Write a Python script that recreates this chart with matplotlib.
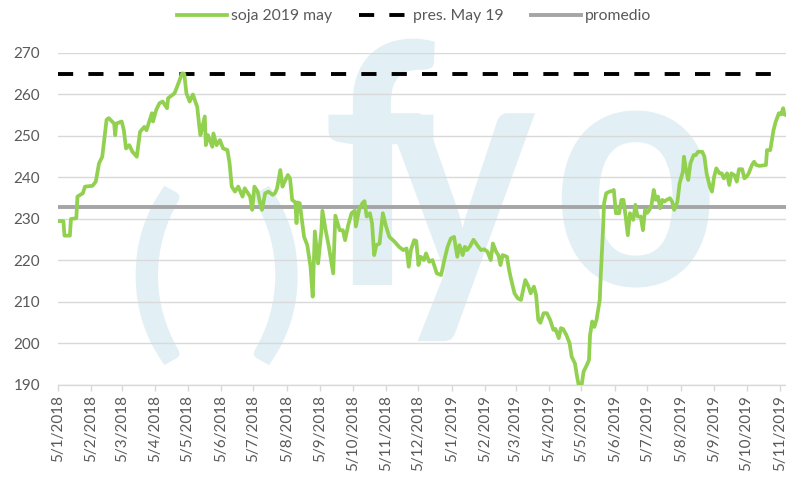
import matplotlib
matplotlib.use("Agg")
import matplotlib.pyplot as plt
import pandas as pd
from matplotlib.textpath import TextPath
from matplotlib.patches import PathPatch
from matplotlib.font_manager import FontProperties
from matplotlib.transforms import Affine2D

plt.rcParams['font.family'] = ['Lato', 'DejaVu Sans']

# ---- data ----
dates = [
    "2018-01-05", "2018-01-10", "2018-01-11", "2018-01-16", "2018-01-17", "2018-01-22", "2018-01-23",
    "2018-01-28", "2018-01-30", "2018-02-06", "2018-02-09", "2018-02-12", "2018-02-15", "2018-02-19",
    "2018-02-21", "2018-02-26", "2018-02-27", "2018-02-28", "2018-03-05", "2018-03-07", "2018-03-09",
    "2018-03-12", "2018-03-15", "2018-03-19", "2018-03-22", "2018-03-26", "2018-03-28", "2018-04-02",
    "2018-04-03", "2018-04-06", "2018-04-09", "2018-04-12", "2018-04-16", "2018-04-17", "2018-04-20",
    "2018-04-23", "2018-04-26", "2018-04-30", "2018-05-02", "2018-05-04", "2018-05-07", "2018-05-10",
    "2018-05-14", "2018-05-16", "2018-05-17", "2018-05-21", "2018-05-22", "2018-05-24", "2018-05-28",
    "2018-05-29", "2018-06-01", "2018-06-04", "2018-06-07", "2018-06-11", "2018-06-13", "2018-06-15",
    "2018-06-18", "2018-06-21", "2018-06-25", "2018-06-27", "2018-07-02", "2018-07-04", "2018-07-06",
    "2018-07-09", "2018-07-12", "2018-07-13", "2018-07-16", "2018-07-19", "2018-07-23", "2018-07-25",
    "2018-07-27", "2018-07-30", "2018-08-01", "2018-08-03", "2018-08-06", "2018-08-08", "2018-08-10",
    "2018-08-13", "2018-08-14", "2018-08-15", "2018-08-17", "2018-08-21", "2018-08-24", "2018-08-27",
    "2018-08-29", "2018-08-31", "2018-09-03", "2018-09-06", "2018-09-07", "2018-09-10", "2018-09-13",
    "2018-09-17", "2018-09-19", "2018-09-23", "2018-09-26", "2018-09-28", "2018-10-01", "2018-10-04",
    "2018-10-07", "2018-10-08", "2018-10-11", "2018-10-14", "2018-10-16", "2018-10-18", "2018-10-21",
    "2018-10-23", "2018-10-25", "2018-10-27", "2018-10-30", "2018-11-02", "2018-11-05", "2018-11-08",
    "2018-11-13", "2018-11-17", "2018-11-21", "2018-11-24", "2018-11-26", "2018-11-28", "2018-12-01",
    "2018-12-03", "2018-12-05", "2018-12-07", "2018-12-10", "2018-12-12", "2018-12-15", "2018-12-18",
    "2018-12-20", "2018-12-22", "2018-12-26", "2018-12-29", "2019-01-01", "2019-01-04", "2019-01-07",
    "2019-01-10", "2019-01-12", "2019-01-15", "2019-01-17", "2019-01-19", "2019-01-22", "2019-01-25",
    "2019-01-29", "2019-02-01", "2019-02-04", "2019-02-07", "2019-02-10", "2019-02-12", "2019-02-15",
    "2019-02-17", "2019-02-19", "2019-02-21", "2019-02-25", "2019-02-27", "2019-03-01", "2019-03-04",
    "2019-03-07", "2019-03-10", "2019-03-12", "2019-03-14", "2019-03-17", "2019-03-19", "2019-03-22",
    "2019-03-24", "2019-03-26", "2019-03-28", "2019-03-31", "2019-04-03", "2019-04-06", "2019-04-09",
    "2019-04-11", "2019-04-14", "2019-04-16", "2019-04-18", "2019-04-21", "2019-04-24", "2019-04-26",
    "2019-04-29", "2019-05-01", "2019-05-03", "2019-05-05", "2019-05-07", "2019-05-10", "2019-05-12",
    "2019-05-13", "2019-05-15", "2019-05-17", "2019-05-19", "2019-05-22", "2019-05-23", "2019-05-25",
    "2019-05-26", "2019-05-28", "2019-05-31", "2019-06-03", "2019-06-04", "2019-06-06", "2019-06-09",
    "2019-06-11", "2019-06-13", "2019-06-15", "2019-06-17", "2019-06-19", "2019-06-22", "2019-06-24",
    "2019-06-26", "2019-06-29", "2019-07-01", "2019-07-03", "2019-07-05", "2019-07-07", "2019-07-09",
    "2019-07-11", "2019-07-13", "2019-07-15", "2019-07-17", "2019-07-19", "2019-07-21", "2019-07-23",
    "2019-07-26", "2019-07-28", "2019-07-30", "2019-08-02", "2019-08-04", "2019-08-07", "2019-08-08",
    "2019-08-10", "2019-08-12", "2019-08-14", "2019-08-17", "2019-08-19", "2019-08-21", "2019-08-25",
    "2019-08-27", "2019-08-29", "2019-09-01", "2019-09-03", "2019-09-05", "2019-09-07", "2019-09-10",
    "2019-09-12", "2019-09-14", "2019-09-17", "2019-09-19", "2019-09-21", "2019-09-24", "2019-09-26",
    "2019-09-28", "2019-10-01", "2019-10-03", "2019-10-05", "2019-10-07", "2019-10-10", "2019-10-12",
    "2019-10-14", "2019-10-17", "2019-10-23", "2019-10-24", "2019-10-27", "2019-10-30", "2019-11-01",
    "2019-11-04", "2019-11-06", "2019-11-08", "2019-11-09", "2019-11-11",
]
soja = [
    229.5, 229.5, 226.0, 226.0, 230.0, 230.2, 235.4,
    236.2, 237.8, 238.0, 239.0, 243.4, 245.0, 253.9,
    254.3, 253.0, 250.2, 253.0, 253.5, 251.4, 247.0,
    247.8, 246.2, 245.0, 251.0, 252.2, 251.4, 255.5,
    253.5, 256.3, 257.9, 258.3, 256.7, 259.1, 259.7,
    260.3, 262.3, 265.1, 265.0, 260.3, 258.3, 260.0,
    257.0, 252.2, 250.2, 254.7, 247.8, 250.2, 247.4,
    250.6, 247.8, 249.0, 247.0, 246.6, 243.4, 237.8,
    236.6, 237.8, 235.4, 237.4, 235.4, 232.2, 237.8,
    236.6, 233.0, 232.2, 236.2, 236.6, 235.8, 236.2,
    237.4, 241.8, 237.8, 239.0, 240.6, 239.8, 234.6,
    234.0, 229.0, 234.0, 233.8, 225.7, 223.7, 218.5,
    211.3, 227.0, 219.3, 227.0, 232.0, 227.3, 223.3,
    216.9, 230.8, 227.3, 227.3, 224.9, 228.6, 231.4,
    232.0, 228.2, 232.2, 233.8, 234.3, 230.6, 231.4,
    229.0, 221.3, 223.7, 224.1, 231.4, 228.2, 225.7,
    224.5, 223.3, 222.5, 222.9, 218.5, 222.5, 224.9,
    224.7, 218.9, 220.9, 220.1, 221.7, 219.7, 220.1,
    218.5, 216.9, 216.5, 220.1, 223.3, 225.3, 225.7,
    220.9, 223.7, 221.3, 223.3, 222.5, 223.5, 225.0,
    223.5, 222.5, 222.7, 222.1, 220.1, 224.1, 222.1,
    221.3, 218.9, 221.3, 220.9, 217.7, 215.3, 212.1,
    210.9, 210.5, 212.9, 215.3, 213.7, 212.1, 213.7,
    211.7, 205.7, 205.0, 207.3, 207.3, 205.7, 203.3,
    203.5, 201.3, 203.7, 203.5, 202.1, 200.1, 196.8,
    195.2, 192.0, 189.3, 189.6, 193.2, 194.8, 196.0,
    202.0, 205.3, 204.0, 205.7, 210.5, 216.9, 227.3,
    233.8, 236.2, 236.6, 236.8, 237.0, 231.4, 231.4,
    234.6, 234.6, 230.6, 226.1, 231.4, 229.8, 233.4,
    230.6, 230.6, 227.3, 232.2, 231.5, 232.2, 233.4,
    237.0, 234.6, 235.4, 232.6, 234.6, 234.2, 234.6,
    235.0, 234.2, 232.2, 234.2, 238.6, 241.4, 245.0,
    241.8, 239.4, 243.4, 245.4, 245.4, 246.2, 246.2,
    245.0, 241.0, 237.8, 236.6, 240.2, 242.2, 241.0,
    241.0, 239.8, 241.0, 238.2, 241.0, 240.5, 239.0,
    242.0, 242.0, 239.8, 240.2, 241.0, 243.0, 243.8,
    243.0, 242.8, 243.0, 246.6, 246.6, 251.4, 253.4,
    255.5, 255.2, 256.7, 255.2, 255.0,
]
pres_may19 = 265.0
promedio = 233.0
series_labels = ["soja 2019 may", "pres. May 19", "promedio"]
y_ticks = [190, 200, 210, 220, 230, 240, 250, 260, 270]
tick_dates = pd.date_range("2018-01-05", "2019-11-05", freq=pd.DateOffset(months=1))

# ---- figure ----
W, H = 786, 478
fig = plt.figure(figsize=(W / 100, H / 100), dpi=100)
ax = fig.add_axes([58 / W, 1 - 385 / H, 1 - 58 / W, (385 - 53) / H])
ax.patch.set_alpha(0)

# watermark (light-blue "( )fyo" logo behind the chart)
wm = '#e2f0f5'
fp = FontProperties(family='Lato', weight='bold')
pix = Affine2D().scale(1 / W, 1 / H) + fig.transFigure


def logo(ch, x0, base, size, sx=1.0):
    tp = TextPath((0, 0), ch, size=size, prop=fp)
    tr = Affine2D().scale(sx, 1.0).translate(x0, H - base) + pix
    fig.patches.append(PathPatch(tp, transform=tr, facecolor=wm, edgecolor='none', zorder=-1))


logo("(", 128, 335, 190, 1.1)
logo(")", 248, 335, 190, 1.1)
logo("f", 322, 285, 335, 0.95)
logo("y", 385, 285, 335, 0.85)
logo("o", 552, 285, 335, 0.87)

x = pd.to_datetime(dates)
ax.plot(x, soja, color='#92d050', lw=2.7, label=series_labels[0], zorder=4,
        solid_joinstyle='round')
ax.axhline(pres_may19, color='black', lw=2.8, dashes=(3.9, 3.9), label=series_labels[1], zorder=3)
ax.axhline(promedio, color='#a5a5a5', lw=2.8, label=series_labels[2], zorder=3)

ax.set_ylim(190, 270)
ax.set_xlim(pd.Timestamp("2018-01-05"), pd.Timestamp("2019-11-10 14:00"))
ax.set_yticks(y_ticks)
ax.yaxis.grid(True, color='#d9d9d9', lw=1)
ax.set_axisbelow(True)
ax.set_xticks(tick_dates)
ax.set_xticklabels([f"{d.day}/{d.month}/{d.year}" for d in tick_dates], rotation=90)

for s in ['top', 'right', 'left']:
    ax.spines[s].set_visible(False)
ax.spines['bottom'].set_color('#d9d9d9')
ax.spines['bottom'].set_linewidth(1)
ax.tick_params(axis='y', length=0, pad=13, labelsize=11, labelcolor='#595959')
ax.tick_params(axis='x', length=4, color='#d9d9d9', width=1, pad=3,
               labelsize=11, labelcolor='#595959')

leg = fig.legend(loc='center', bbox_to_anchor=(414 / W, 1 - 16 / H), ncol=3, frameon=False,
                 fontsize=11.3, handlelength=3.2, handletextpad=0.25, columnspacing=1.7,
                 labelcolor='#595959')

fig.savefig("out.png", dpi=100)
